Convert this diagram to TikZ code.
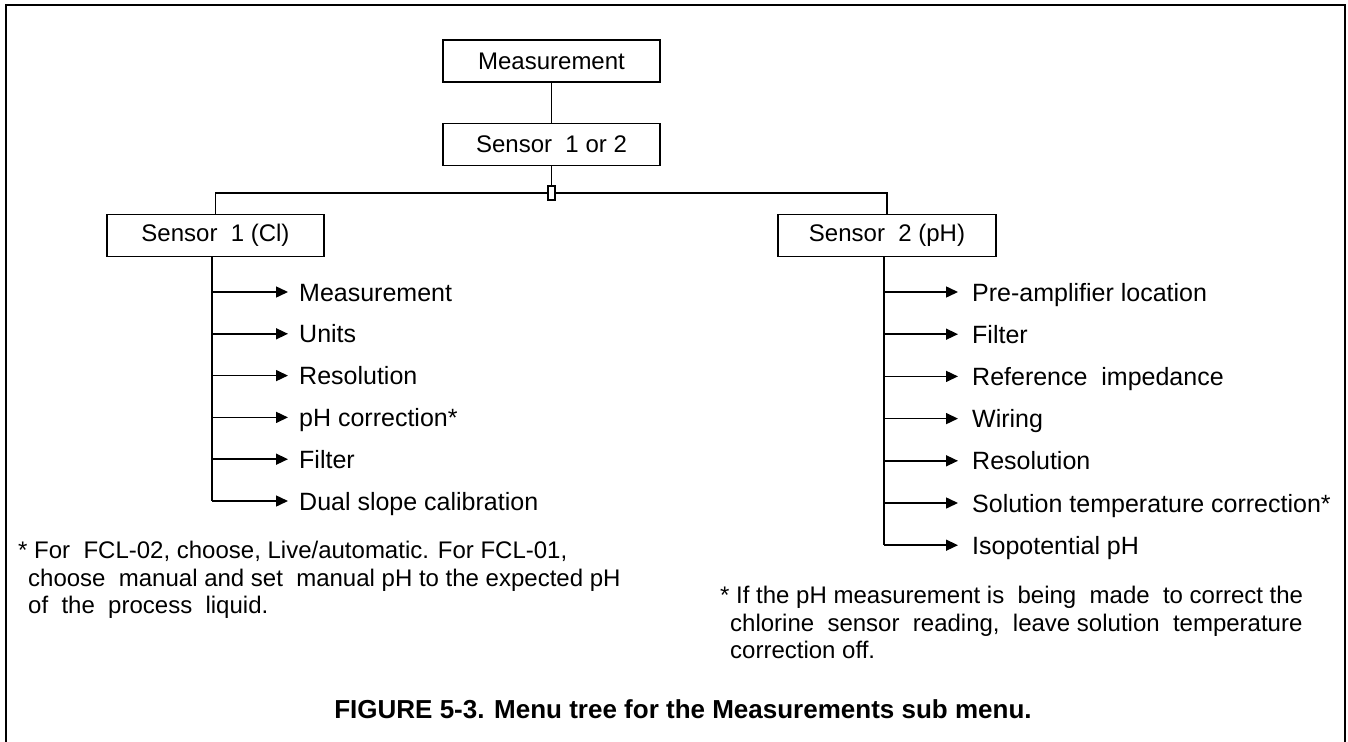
\documentclass[tikz,border=0pt]{standalone}
\usepackage{fontspec}
\setmainfont{Liberation Sans}
\usetikzlibrary{arrows.meta}
\begin{document}
\begin{tikzpicture}[x=1pt,y=-1pt,
  every node/.style={font=\fontsize{24}{28}\selectfont},
  menubox/.style={draw,line width=1.5pt,minimum width=217pt,minimum height=42pt,inner sep=0pt},
  item/.style={anchor=west,inner sep=0pt,text height=18pt,text depth=0pt,font=\fontsize{25}{29}\selectfont},
  wire/.style={line width=1.5pt},
  arr/.style={line width=1.5pt,-{Triangle[length=12pt,width=11pt]}},
  note/.style={anchor=base west,inner sep=0pt},
  frame/.style={line width=2.4pt}]
\useasboundingbox (0,0) rectangle (1348,741);
\draw[frame] (6,745) -- (6,5) -- (1345,5) -- (1345,745);

\node[menubox] (meas) at (551.5,61) {Measurement};
\node[menubox] (s12) at (551.5,144.5) {Sensor~~1 or 2};
\node[menubox] (s1) at (215.5,235.5) {Sensor~~1 (Cl)};
\node[menubox,minimum width=218pt] (s2) at (887,235.5) {Sensor~~2 (pH)};

\draw[wire] (meas.south) -- (s12.north);
\coordinate (jc) at (551.5,193);
\coordinate (jl) at (s1.north |- jc);
\coordinate (jr) at (s2.north |- jc);
\draw[wire] (s12.south) -- (jc);
\draw[wire] (s1.north) -- (jl) -- (jr) -- (s2.north);
\node[draw,fill=white,line width=1.2pt,minimum width=7pt,minimum height=14pt,inner sep=0pt] (jbox) at (jc) {};

% left items
\foreach \t [count=\i] in {Measurement,Units,Resolution,pH correction*,Filter,Dual slope calibration}{
  \node[item] (l\i) at (299,{292+41.8*(\i-1)}) {\t};
  \coordinate (lc\i) at (212,{292+41.8*(\i-1)});
  \draw[arr] (lc\i) -- ([xshift=-11pt]l\i.west);
}
\coordinate (ltop) at (212,257);
\draw[wire] (ltop) -- (lc6);

% right items
\foreach \t [count=\i] in {Pre-amplifier location,Filter,Reference~~impedance,Wiring,Resolution,Solution temperature correction*,Isopotential~pH}{
  \node[item] (r\i) at (972,{292+42.2*(\i-1)}) {\t};
  \coordinate (rc\i) at (884,{292+42.2*(\i-1)});
  \draw[arr] (rc\i) -- ([xshift=-14pt]r\i.west);
}
\coordinate (rtop) at (884,257);
\draw[wire] (rtop) -- (rc7);

% footnotes
\node[note] (fl1) at (18,558) {*~For~~FCL-02, choose, Live/automatic. For FCL-01,};
\node[note] (fl2) at (28,586) {choose~~manual and set~~manual pH to the expected pH};
\node[note] (fl3) at (28,613) {of~~the~~process~~liquid.};

\node[note] (fr1) at (720,603) {*~If the pH measurement is~~being~~made~~to correct the};
\node[note] (fr2) at (730,631) {chlorine~~sensor~~reading,~~leave solution~~temperature};
\node[note] (fr3) at (730,658) {correction off.};

\node[anchor=base,inner sep=0pt,font=\fontsize{26}{30}\selectfont\bfseries] (cap) at (683,718) {FIGURE 5-3. Menu tree for the Measurements sub menu.};
\end{tikzpicture}
\end{document}
